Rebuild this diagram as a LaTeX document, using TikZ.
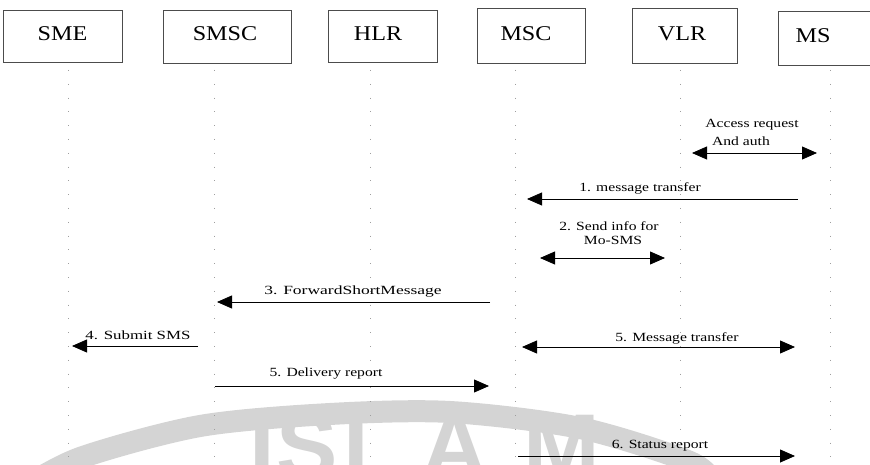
\documentclass[tikz,border=0pt]{standalone}
\usepackage{fontspec}
\setmainfont{Liberation Serif}
\newfontfamily\boxfont[FakeStretch=1.15]{Liberation Serif}
\newfontfamily\msgfont[FakeStretch=1.25]{Liberation Serif}
\newfontfamily\wmfont{Liberation Sans}
\usetikzlibrary{arrows.meta}
\tikzset{
  actor/.style={draw=black!70, line width=0.8pt, rectangle, inner sep=0pt},
  actorlabel/.style={font=\boxfont\fontsize{21}{22}\selectfont, inner sep=0pt},
  lifeline/.style={black!38, line width=0.7pt, dash pattern=on 0.8pt off 13pt},
  msg/.style={line width=0.8pt, -{Triangle[length=15pt,width=13pt]}},
  dmsg/.style={line width=0.8pt, {Triangle[length=15pt,width=13pt]}-{Triangle[length=15pt,width=13pt]}},
  msglabel/.style={font=\msgfont\fontsize{12.5}{13}\selectfont, inner sep=0pt},
  wmletter/.style={text=black!17, font=\wmfont\bfseries\fontsize{92}{92}\selectfont, inner sep=0pt, anchor=base}
}
\begin{document}
\begin{tikzpicture}[x=1pt,y=-1pt]
\useasboundingbox (0,0) rectangle (870,465);
% watermark
\draw[black!17, line width=22pt] plot[smooth] coordinates {(20,490) (80,458) (200,426) (330,414) (450,412) (580,428) (690,462) (715,485)};
\node[wmletter] (wmI) at (262,478) {I};
\node[wmletter] (wmS) at (307,478) {S};
\node[wmletter] (wmL) at (372,478) {L};
\node[wmletter] (wmA) at (455,478) {A};
\node[wmletter] (wmM) at (562,478) {M};
% actor boxes
\node[actor, minimum width=119pt, minimum height=52pt] (sme) at (62.5,36) {};
\node[actor, minimum width=128pt, minimum height=53pt] (smsc) at (227,36.5) {};
\node[actor, minimum width=109pt, minimum height=52pt] (hlr) at (382.5,36) {};
\node[actor, minimum width=108pt, minimum height=55pt] (msc) at (531,35.5) {};
\node[actor, minimum width=105pt, minimum height=55pt] (vlr) at (684.5,35.5) {};
\node[actor, minimum width=100pt, minimum height=54pt] (ms) at (828,38) {};
\node[actorlabel] (smet) at (62.5,34) {SME};
\node[actorlabel] (smsct) at (225,34) {SMSC};
\node[actorlabel] (hlrt) at (378,34) {HLR};
\node[actorlabel] (msct) at (526,34) {MSC};
\node[actorlabel] (vlrt) at (682,34) {VLR};
\node[actorlabel] (mst) at (813,36) {MS};
% lifelines
\foreach \n/\x in {l1/68, l2/214, l3/370, l4/515, l5/680, l6/830} {
  \coordinate (\n top) at (\x,70);
  \coordinate (\n bot) at (\x,465);
  \draw[lifeline] (\n top) -- (\n bot);
}
% message end points
\coordinate (a0s) at (692,153); \coordinate (a0e) at (817,153);
\coordinate (a1s) at (798,199); \coordinate (a1e) at (527,199);
\coordinate (a2s) at (540,258); \coordinate (a2e) at (665,258);
\coordinate (a3s) at (490,302); \coordinate (a3e) at (217,302);
\coordinate (a4s) at (198,346); \coordinate (a4e) at (72,346);
\coordinate (a5s) at (522,347); \coordinate (a5e) at (795,347);
\coordinate (a6s) at (215,386); \coordinate (a6e) at (489,386);
\coordinate (a7s) at (518,456); \coordinate (a7e) at (795,456);
\draw[dmsg] (a0s) -- (a0e);
\draw[msg] (a1s) -- (a1e);
\draw[dmsg] (a2s) -- (a2e);
\draw[msg] (a3s) -- (a3e);
\draw[msg] (a4s) -- (a4e);
\draw[dmsg] (a5s) -- (a5e);
\draw[msg] (a6s) -- (a6e);
\draw[msg] (a7s) -- (a7e);
% labels
\node[msglabel] (t0a) at (752,125) {Access request};
\node[msglabel] (t0b) at (741,141) {And auth};
\node[msglabel] (t1) at (640,188) {1. message transfer};
\node[msglabel] (t2a) at (609,226) {2. Send info for};
\node[msglabel] (t2b) at (613,240) {Mo-SMS};
\node[msglabel, xscale=1.12] (t3) at (353,292) {3. ForwardShortMessage};
\node[msglabel, xscale=1.08] (t4) at (138,335) {4. Submit SMS};
\node[msglabel] (t5) at (677,338) {5. Message transfer};
\node[msglabel] (t6) at (326,374) {5. Delivery report};
\node[msglabel] (t7) at (660,446) {6. Status report};
\end{tikzpicture}
\end{document}
